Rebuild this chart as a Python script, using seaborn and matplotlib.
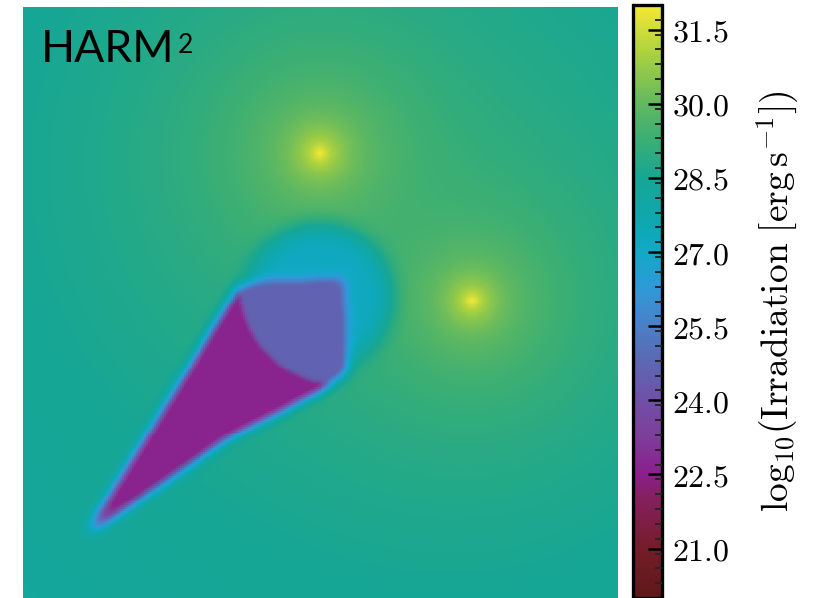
import numpy as np
import matplotlib
matplotlib.use("Agg")
import matplotlib.pyplot as plt
import seaborn as sns
from matplotlib.colors import LinearSegmentedColormap
from matplotlib.path import Path

# ---------------- data (scene, 0-100 box units) ----------------
source_x = [49.9, 75.5]
source_y = [24.7, 49.7]
source_log_lum = [31.7, 31.6]      # log10 luminosity of the two point sources
source_core = [0.8, 0.75]          # softening length
background_log = 27.8              # diffuse floor

cone_x = [11.0, 25.9, 36.5, 40.2, 54.1, 54.3, 50.3, 34.3]
cone_y = [89.0, 64.8, 47.5, 46.4, 46.0, 61.8, 64.5, 72.8]
cone_level = 22.6                  # fully shadowed
core_center = [53.3, 47.0]
core_radius = 16.9
core_level = 24.6                  # partially shadowed
glow_center = [49.8, 49.0]
glow_radius = 12.0
glow_level = 27.2

cbar_ticks = [21.0, 22.5, 24.0, 25.5, 27.0, 28.5, 30.0, 31.5]
cbar_minor_step = 0.3
vmin, vmax = 20.0, 32.0

cmap_levels = [20.0, 21.0, 22.0, 22.5, 23.3, 24.0, 24.8, 25.5, 26.3, 27.0, 27.5, 28.5, 29.3, 30.0, 31.0, 32.0]
cmap_colors = ["#5e1818", "#761c2a", "#84205e", "#8b1f8c", "#7d3f9a", "#7050a8", "#5c68b4",
               "#4a80c8", "#2e9ad8", "#12a8c8", "#0ea8b4", "#16a694", "#3aae74", "#60b860",
               "#a8d040", "#f4e834"]

# ---------------- field construction ----------------
N = 300
xs = (np.arange(N) + 0.5) * 100.0 / N
ys = (np.arange(N) + 0.5) * 100.0 / N
X, Y = np.meshgrid(xs, ys)


def blur(a, sigma_units):
    s = sigma_units * N / 100.0
    r = int(np.ceil(4 * s))
    k = np.exp(-0.5 * (np.arange(-r, r + 1) / s) ** 2)
    k /= k.sum()
    p = np.pad(a, r, mode="edge")
    p = np.apply_along_axis(lambda v: np.convolve(v, k, mode="valid"), 0, p)
    p = np.apply_along_axis(lambda v: np.convolve(v, k, mode="valid"), 1, p)
    return p


I = np.full_like(X, 10.0 ** background_log)
for sx, sy, L, c in zip(source_x, source_y, source_log_lum, source_core):
    I += 10.0 ** L / ((X - sx) ** 2 + (Y - sy) ** 2 + c ** 2)
field = np.log10(I)

glow_mask = (((X - glow_center[0]) ** 2 + (Y - glow_center[1]) ** 2) < glow_radius ** 2).astype(float)
g = blur(glow_mask, 1.8)
field = field + (glow_level - field) * g

poly = Path(np.column_stack([cone_x, cone_y]))
inside = poly.contains_points(np.column_stack([X.ravel(), Y.ravel()])).reshape(X.shape).astype(float)
core = (((X - core_center[0]) ** 2 + (Y - core_center[1]) ** 2) < core_radius ** 2).astype(float)
interior = np.where(core > 0, core_level, cone_level)
interior = blur(interior, 0.35)
m = blur(inside, 1.0)
m = np.clip(m * 1.25, 0, 1)
field = field + (interior - field) * m

# ---------------- plot ----------------
sns.set_theme(style="white")
plt.rcParams["mathtext.fontset"] = "cm"
cmap = LinearSegmentedColormap.from_list(
    "irr", [((l - vmin) / (vmax - vmin), c) for l, c in zip(cmap_levels, cmap_colors)])

fig = plt.figure(figsize=(8.2, 5.98), dpi=100)
ax = fig.add_axes([23 / 820, 0.0, 595 / 820, 591 / 598])
cax = fig.add_axes([633 / 820, 0.0, 29 / 820, 593 / 598])

sns.heatmap(field, ax=ax, cbar_ax=cax, cmap=cmap, vmin=vmin, vmax=vmax,
            xticklabels=False, yticklabels=False, rasterized=True)
ax.set_xticks([])
ax.set_yticks([])

cbar = ax.collections[0].colorbar
cbar.set_ticks(cbar_ticks, labels=[f"${v:.1f}$" for v in cbar_ticks])
n_minor = int(round((vmax - vmin) / cbar_minor_step))
minor_vals = [round(vmin + k * cbar_minor_step, 2) for k in range(1, n_minor)]
minor_vals = [v for v in minor_vals if all(abs(v - t) > 1e-6 for t in cbar_ticks)]
cbar.set_ticks(minor_vals, minor=True)
cax.set_axisbelow(False)
cax.tick_params(which="major", direction="in", length=10, width=1.8, right=True, left=False,
                labelsize=23, pad=7, colors="black")
cax.tick_params(which="minor", direction="in", length=5, width=1.4, right=True, left=False)
cbar.outline.set_linewidth(2.4)
cbar.outline.set_edgecolor("black")
cbar.set_label(r"$\mathrm{log}_{10}(\mathrm{Irradiation}\ [\mathrm{erg\,s}^{-1}])$",
               fontsize=27, labelpad=18, color="black")

fig.text(41 / 820, 1 - 62 / 598, "HARM", fontsize=32, family="Lato",
         color="black", va="baseline")
fig.text(178 / 820, 1 - 53 / 598, "2", fontsize=19, family="Lato",
         color="black", va="baseline")

fig.savefig("out.png", dpi=100)
